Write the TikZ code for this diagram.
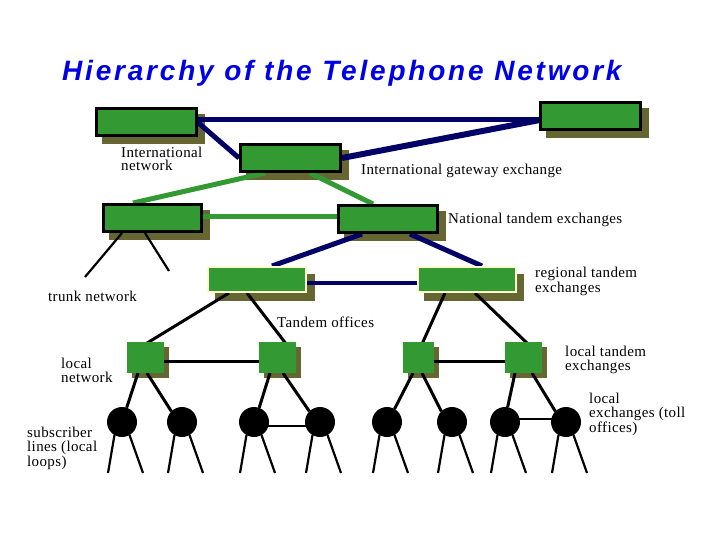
\documentclass[tikz,border=0pt]{standalone}
\usepackage{fontspec}
\setmainfont{Liberation Serif}[LetterSpace=2.5]
\newfontfamily\tfont{Liberation Sans}[LetterSpace=10]
\usetikzlibrary{calc}
\definecolor{gfill}{RGB}{51,153,51}
\definecolor{shadowc}{RGB}{102,102,51}
\definecolor{navyc}{RGB}{0,0,102}
\definecolor{titlec}{RGB}{0,0,230}
\definecolor{paleborder}{RGB}{255,255,204}
\pgfdeclarelayer{bg}
\pgfdeclarelayer{mid}
\pgfsetlayers{bg,mid,main}
\newcommand\shadowof[2][7pt]{\fill[shadowc] ([shift={(#1,-#1)}]#2.south west) rectangle ([shift={(#1,-#1)}]#2.north east);}
\begin{document}
\begin{tikzpicture}[x=1pt,y=-1pt,
  bigbox/.style={fill=gfill,draw=black,line width=3pt,minimum width=100pt,minimum height=27pt,inner sep=0pt},
  regbox/.style={fill=gfill,draw=paleborder,line width=2pt,minimum width=98pt,minimum height=25pt,inner sep=0pt},
  smallbox/.style={fill=gfill,minimum height=31pt,inner sep=0pt,outer sep=0pt},
  exch/.style={circle,fill=black,minimum size=30pt,inner sep=0pt,outer sep=0pt},
  lbl/.style={font=\fontsize{15}{13.5}\selectfont,inner sep=0pt,anchor=base west,align=left},
  navyline/.style={navyc,line width=5pt},
  greenline/.style={gfill,line width=5pt},
  blackline/.style={black,line width=3pt},
  legline/.style={black,line width=2.2pt},
]
\useasboundingbox (0,0) rectangle (720,540);
\begin{pgfonlayer}{bg}
\fill[white] (0,0) rectangle (720,540);
\end{pgfonlayer}

% title
\node[font=\tfont\bfseries\itshape\fontsize{28}{32}\selectfont,text=titlec,inner sep=0pt,anchor=base west] (title) at (62,81) {Hierarchy of the Telephone Network};

% boxes
\node[bigbox] (b1) at (146.5,122.5) {};
\node[bigbox] (b2) at (290.5,158) {};
\node[bigbox] (b3) at (590.5,116) {};
\node[bigbox,minimum width=98pt] (b4) at (152.5,218) {};
\node[bigbox,minimum width=99pt] (b5) at (388,219) {};
\node[regbox] (b6) at (257,279.5) {};
\node[regbox] (b7) at (466.5,279.5) {};
\node[smallbox,minimum width=37pt] (s1) at (145.5,357.5) {};
\node[smallbox,minimum width=37pt] (s2) at (277.5,357.5) {};
\node[smallbox,minimum width=31pt] (s3) at (418.5,357.5) {};
\node[smallbox,minimum width=37pt] (s4) at (523.5,357.5) {};

% exchanges
\foreach \n/\x in {1/122,2/182,3/254,4/320,5/387,6/452,7/505,8/566}{
  \node[exch] (c\n) at (\x,422) {};
  \coordinate (la\n) at (\x-14,473);
  \coordinate (ra\n) at (\x+21,473);
}
\coordinate (t1) at (85,277);
\coordinate (t2) at (169,271);

% shadows
\begin{pgfonlayer}{bg}
\shadowof{b1}\shadowof{b2}\shadowof{b3}\shadowof{b4}\shadowof{b5}
\shadowof[7.5pt]{b6}\shadowof[7.5pt]{b7}
\shadowof[5pt]{s1}\shadowof[5pt]{s2}\shadowof[5pt]{s3}\shadowof[5pt]{s4}
\end{pgfonlayer}

% connectors
\begin{pgfonlayer}{mid}
\draw[navyline] ([yshift=2.5pt]b1.east) -- ([yshift=-4pt]b3.west);
\draw[navyline] (b1.east) -- (b2.west);
\draw[navyline,line width=6pt] (b2.east) -- ([xshift=6pt,yshift=-3pt]b3.west);
\draw[greenline] ([xshift=-25.5pt]b2.south) -- ([xshift=-19.5pt]b4.north);
\draw[greenline] ([xshift=19.5pt]b2.south) -- ([xshift=-15pt]b5.north);
\draw[greenline] ([yshift=1pt]b4.east) -- ([yshift=2pt]b5.west);
\draw[legline] ([xshift=-30.5pt]b4.south) -- (t1);
\draw[legline] ([xshift=-7.5pt]b4.south) -- (t2);
\draw[navyline] ([xshift=-26pt]b5.south) -- ([xshift=15pt]b6.north);
\draw[navyline] ([xshift=22pt]b5.south) -- ([xshift=15.5pt]b7.north);
\draw[navyline,line width=4pt] ([yshift=-3.5pt]b6.east) -- ([yshift=-3.5pt]b7.west);
\draw[blackline] ([xshift=-28pt]b6.south) -- ([yshift=-2pt]s1.north);
\draw[blackline] ([xshift=-10pt]b6.south) -- ([xshift=9.5pt,yshift=-3pt]s2.north);
\draw[blackline] ([xshift=-21.5pt]b7.south) -- ([xshift=3.5pt,yshift=-2pt]s3.north);
\draw[blackline] ([xshift=8.5pt]b7.south) -- ([xshift=4.5pt,yshift=-2pt]s4.north);
\draw[blackline] ([yshift=-3.5pt]s1.east) -- ([yshift=-3.5pt]s2.west);
\draw[blackline] ([yshift=-3.5pt]s3.east) -- ([yshift=-3.5pt]s4.west);
\draw[blackline] ([xshift=-7.5pt]s1.south) -- (c1);
\draw[blackline] ([xshift=1.5pt]s1.south) -- (c2.135);
\draw[blackline] ([xshift=-7.5pt]s2.south) -- (c3.70);
\draw[blackline] ([xshift=5.5pt]s2.south) -- (c4.135);
\draw[blackline] ([xshift=-5.5pt]s3.south) -- (c5.60);
\draw[blackline] ([xshift=3.5pt]s3.south) -- (c6.135);
\draw[blackline] ([xshift=-8.5pt]s4.south) -- (c7.80);
\draw[blackline] ([xshift=8.5pt]s4.south) -- (c8.135);
\draw[legline] ([yshift=-4pt]c3.center) -- ([yshift=-4pt]c4.center);
\draw[legline] ([yshift=3pt]c7.center) -- ([yshift=3pt]c8.center);
\foreach \n in {1,...,8}{
  \draw[legline] (c\n.240) -- (la\n);
  \draw[legline] (c\n.300) -- (ra\n);
}
\end{pgfonlayer}

% labels (anchor at baseline of last line)
\node[lbl] (lint) at (121,171) {International\\network};
\node[lbl] (lgw) at (361,175) {International gateway exchange};
\node[lbl] (lnat) at (448,223) {National tandem exchanges};
\node[lbl] (ltrunk) at (48,301) {trunk network};
\node[lbl] (lreg) at (535,292) {regional tandem\\exchanges};
\node[lbl] (ltand) at (277,327) {Tandem offices};
\node[lbl] (lloc) at (61,382) {local\\network};
\node[lbl] (llt) at (565,370) {local tandem\\exchanges};
\node[lbl] (lle) at (589,432) {local\\exchanges (toll\\offices)};
\node[lbl] (lsub) at (27,466) {subscriber\\lines (local\\loops)};
\end{tikzpicture}
\end{document}
